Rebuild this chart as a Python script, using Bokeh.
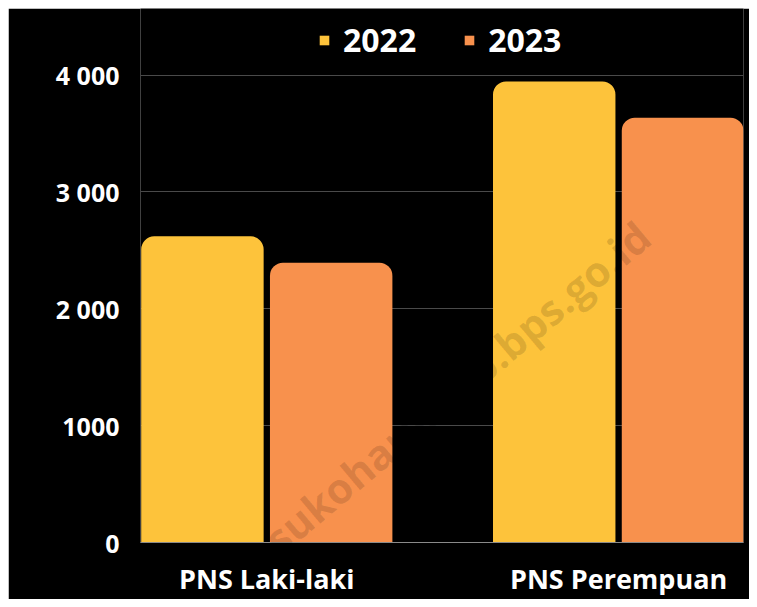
from bokeh.plotting import figure
from bokeh.models import Range1d, FixedTicker, ColumnDataSource, Legend, LegendItem, Label
from bokeh.embed import file_html
from bokeh.resources import INLINE
import numpy as np

categories = ["PNS Laki-laki", "PNS Perempuan"]
years = ["2022", "2023"]
values_2022 = [2620, 3945]
values_2023 = [2395, 3635]
y_ticks = [0, 1000, 2000, 3000, 4000]
y_tick_labels = ["0", "1000", "2 000", "3 000", "4 000"]
colors = ["#FDC33B", "#F8914D"]

FONT = "Open Sans"

p = figure(width=741, height=591, output_backend="svg", toolbar_location=None,
           x_range=Range1d(0.141, 1.855), y_range=Range1d(0, 4570),
           min_border_left=132, min_border_right=6, min_border_top=0, min_border_bottom=46)
p.margin = (8, 0, 0, 8)
p.background_fill_color = "black"
p.border_fill_color = "black"
p.outline_line_color = None

xc = np.arange(len(categories)) + 0.5
offset = 0.183
bw = 0.348
renderers = []
for i, (yr, vals) in enumerate(zip(years, [values_2022, values_2023])):
    src = ColumnDataSource(dict(x=xc + (i - 0.5) * 2 * offset, top=vals))
    r = p.vbar(x="x", top="top", width=bw, bottom=0, source=src,
               fill_color=colors[i], line_color=None, border_radius=(13, 13, 0, 0))
    renderers.append(r)

legend = Legend(items=[LegendItem(label=yr, renderers=[r]) for yr, r in zip(years, renderers)],
                orientation="horizontal", location=(178, 481))
legend.background_fill_alpha = 0
legend.border_line_color = None
legend.padding = 0
legend.margin = 0
legend.spacing = 47
legend.glyph_width = 12
legend.glyph_height = 12
legend.label_standoff = 13
legend.label_text_font = FONT
legend.label_text_font_style = "bold"
legend.label_text_font_size = "32px"
legend.label_text_color = "white"
p.add_layout(legend)

# y axis
p.yaxis.ticker = FixedTicker(ticks=y_ticks)
p.yaxis.major_label_overrides = {t: l for t, l in zip(y_ticks, y_tick_labels)}
p.yaxis.axis_line_color = None
p.yaxis.major_tick_line_color = None
p.yaxis.minor_tick_line_color = None
p.yaxis.major_label_text_font = FONT
p.yaxis.major_label_text_font_style = "bold"
p.yaxis.major_label_text_font_size = "25px"
p.yaxis.major_label_text_color = "white"
p.yaxis.major_label_standoff = 15

# x axis
p.xaxis.ticker = FixedTicker(ticks=list(xc))
p.xaxis.major_label_overrides = {float(x): c for x, c in zip(xc, categories)}
p.xaxis.axis_line_color = "#8a8a8a"
p.xaxis.axis_line_width = 1
p.xaxis.major_tick_line_color = None
p.xaxis.minor_tick_line_color = None
p.xaxis.major_label_text_font = FONT
p.xaxis.major_label_text_font_style = "bold"
p.xaxis.major_label_text_font_size = "27px"
p.xaxis.major_label_text_color = "white"
p.xaxis.major_label_standoff = 11

p.xgrid.grid_line_color = None
p.ygrid.ticker = FixedTicker(ticks=y_ticks[1:])
p.ygrid.grid_line_color = "#4a4a4a"
p.ygrid.grid_line_width = 1

wm = Label(x=1.04, y=1330, text="sukoharjokab.bps.go.id", angle=0.70,
           text_align="center", text_baseline="middle", text_font=FONT,
           text_font_style="bold", text_font_size="42px",
           text_color="black", text_alpha=0.13)
p.add_layout(wm)

open("out.html", "w").write(file_html(p, INLINE))
